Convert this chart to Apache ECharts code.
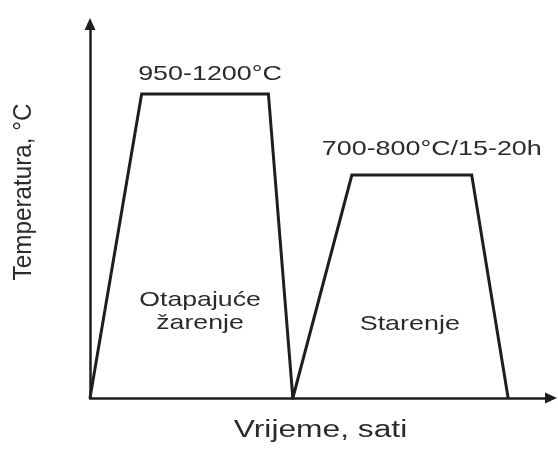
<!DOCTYPE html>
<html>
<head>
<meta charset="utf-8">
<script src="https://cdn.jsdelivr.net/npm/echarts@6/dist/echarts.min.js"></script>
<style>
  html, body { margin: 0; padding: 0; background: #fff; }
  #chart { width: 558px; height: 453px; }
</style>
</head>
<body>
<div id="chart"></div>
<script>
// heat treatment schedule (abstract units)
var timeValues = [0, 11.2, 38.7, 44.0, 56.8, 82.8, 90.7];
var tempValues = [0, 81.3, 81.3, 0, 59.6, 59.6, 0];
var phaseNames = ['Otapajuće\nžarenje', 'Starenje'];
var rangeLabels = ['950-1200°C', '700-800°C/15-20h'];
var xTitle = 'Vrijeme, sati';
var yTitle = 'Temperatura, °C';

var lineColor = '#1e1e1e';
var textColor = '#2b2b2b';
var fontFamily = '"Liberation Sans", Arial, sans-serif';

var chart = echarts.init(document.getElementById('chart'));

var points = timeValues.map(function (t, i) { return [t, tempValues[i]]; });

function axisOpts() {
  return {
    type: 'value',
    min: 0,
    max: 100,
    axisLine: {
      show: true,
      symbol: ['none', 'triangle'],
      symbolSize: [11, 12],
      lineStyle: { color: lineColor, width: 2.5 }
    },
    axisTick: { show: false },
    axisLabel: { show: false },
    splitLine: { show: false }
  };
}

chart.setOption({
  animation: false,
  grid: { left: 90, right: 7, top: 24, bottom: 55 },
  xAxis: axisOpts(),
  yAxis: axisOpts(),
  series: [{
    type: 'line',
    data: points,
    showSymbol: false,
    symbol: 'none',
    lineStyle: { color: lineColor, width: 3, join: 'miter' }
  }]
});

function px(x, y) {
  return chart.convertToPixel({ gridIndex: 0 }, [x, y]);
}

function textEl(text, p, size, scaleX, rotation) {
  return {
    type: 'text',
    x: p[0],
    y: p[1],
    scaleX: scaleX,
    rotation: rotation || 0,
    style: {
      text: text,
      font: size + 'px ' + fontFamily,
      fill: textColor,
      align: 'center',
      verticalAlign: 'middle',
      lineHeight: 23
    }
  };
}

// plateau midpoints of the two stages
var plat1 = px((timeValues[1] + timeValues[2]) / 2, tempValues[1]);
var plat2 = px((timeValues[4] + timeValues[5]) / 2, tempValues[4]);
var base1 = px((timeValues[1] + timeValues[2]) / 2, 0);
var base2 = px((timeValues[4] + timeValues[5]) / 2, 0);
var xMid = px(50, 0);
var yMid = px(0, 50);

chart.setOption({
  graphic: [
    textEl(rangeLabels[0], [plat1[0] + 5, plat1[1] - 20], 21, 1.28),
    textEl(rangeLabels[1], [plat2[0] + 20, plat2[1] - 26], 21, 1.28),
    textEl(phaseNames[0], [base1[0] - 5, base1[1] - 86], 21, 1.27),
    textEl(phaseNames[1], [base2[0] - 2, base2[1] - 74], 21, 1.28),
    textEl(xTitle, [xMid[0], xMid[1] + 33], 23, 1.38),
    textEl(yTitle, [yMid[0] - 66, yMid[1] - 19], 25, 0.97, Math.PI / 2)
  ]
});
</script>
</body>
</html>
